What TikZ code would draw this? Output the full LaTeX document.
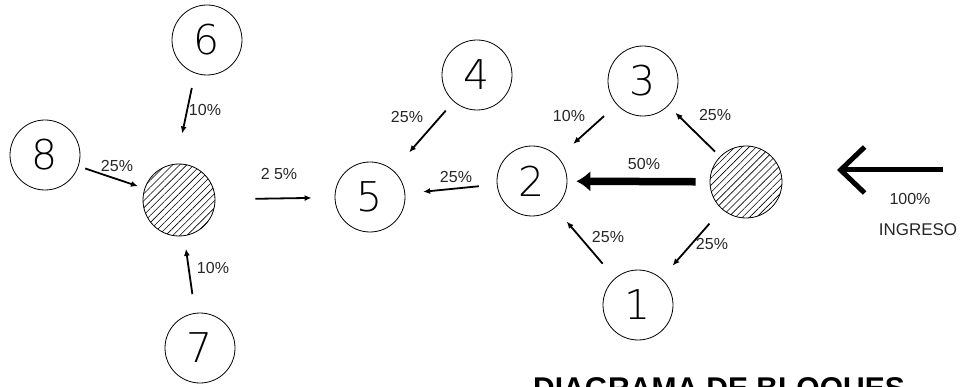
\documentclass[tikz,border=0pt]{standalone}
\usepackage{fontspec}
\usepackage{tikz}
\usetikzlibrary{arrows.meta, patterns.meta}
\newfontfamily\cifra{DejaVuSans-ExtraLight.ttf}
\newfontfamily\etiq{Liberation Sans}
\tikzset{
	etapa/.style={circle, draw=black, line width=0.8pt, minimum size=70pt, inner sep=0pt, font=\cifra\fontsize{41}{41}\selectfont},
	mezcla/.style={circle, draw=black, line width=0.8pt, minimum size=72pt, inner sep=0pt,
		pattern={Lines[angle=45, distance=5pt, line width=0.6pt]}},
	flujo/.style={line width=1.8pt, -{Latex[length=7pt, width=6pt]}},
	flujoG/.style={line width=7.5pt, -{Latex[length=14pt, width=21pt]}},
	entrada/.style={line width=5pt, -{Straight Barb[length=24pt, width=46pt]}},
	pct/.style={font=\etiq\fontsize{16}{16}\selectfont, text=black!85, inner sep=0pt}
}

\begin{document}
\begin{tikzpicture}[x=1pt, y=-1pt]
\useasboundingbox (0,0) rectangle (968,387);
% etapas
\node [etapa] (n6) at (207,40) {6};
\node [etapa] (n8) at (45,155) {8};
\node [etapa] (n7) at (200,348) {7};
\node [etapa] (n5) at (370,197) {5};
\node [etapa] (n4) at (477,75) {4};
\node [etapa] (n2) at (532,181) {2};
\node [etapa] (n3) at (643,81) {3};
\node [etapa] (n1) at (638,305) {1};
\node [mezcla] (mixL) at (179,200) {};
\node [mezcla] (mixR) at (746,182) {};
\coordinate (in0) at (943,170);
\coordinate (in1) at (837,170);

% flujos
\draw [flujo, shorten <=15pt, shorten >=31pt] (n6.250) -- (mixL.95);
\draw [flujo, shorten <=7pt, shorten >=7pt] (n8) -- (mixL);
\draw [flujo, shorten <=19pt, shorten >=13pt] (n7) -- (mixL);
\draw [flujo, shorten <=40pt, shorten >=23pt] (mixL) -- (n5);
\draw [flujo, shorten <=12pt, shorten >=24pt] (n4) -- (n5);
\draw [flujo, shorten <=17pt, shorten >=20pt] (n3) -- (n2);
\draw [flujo, shorten <=18pt, shorten >=18pt] (n2) -- (n5);
\draw [flujo, shorten <=19pt, shorten >=18pt] (n1) -- (n2);
\draw [flujo, shorten <=7pt, shorten >=10pt] (mixR) -- (n3);
\draw [flujo, shorten <=19pt, shorten >=17pt] (mixR) -- (n1);
\draw [flujoG, shorten <=14pt, shorten >=9pt] (mixR) -- (n2);
\draw [entrada] (in0) -- (in1);

% porcentajes
\node [pct] (p6) at (205,110) {10\%};
\node [pct] (p8) at (117,166) {25\%};
\node [pct] (p7) at (213,268) {10\%};
\node [pct] (pL) at (279,174) {2 5\%};
\node [pct] (p4) at (407,117) {25\%};
\node [pct] (p3) at (569,116) {10\%};
\node [pct] (p25) at (456,177) {25\%};
\node [pct] (p50) at (644,164) {50\%};
\node [pct] (p1) at (608,237) {25\%};
\node [pct] (pR3) at (715,115) {25\%};
\node [pct] (pR1) at (712,244) {25\%};
\node [pct] (p100) at (910,199) {100\%};
\node [pct, font=\etiq\fontsize{17}{17}\selectfont] (ing) at (918,230) {INGRESO};
\node [anchor=base west, inner sep=0pt, font=\etiq\bfseries\fontsize{30}{30}\selectfont] (titulo) at (533,398) {DIAGRAMA DE BLOQUES};
\end{tikzpicture}
\end{document}
